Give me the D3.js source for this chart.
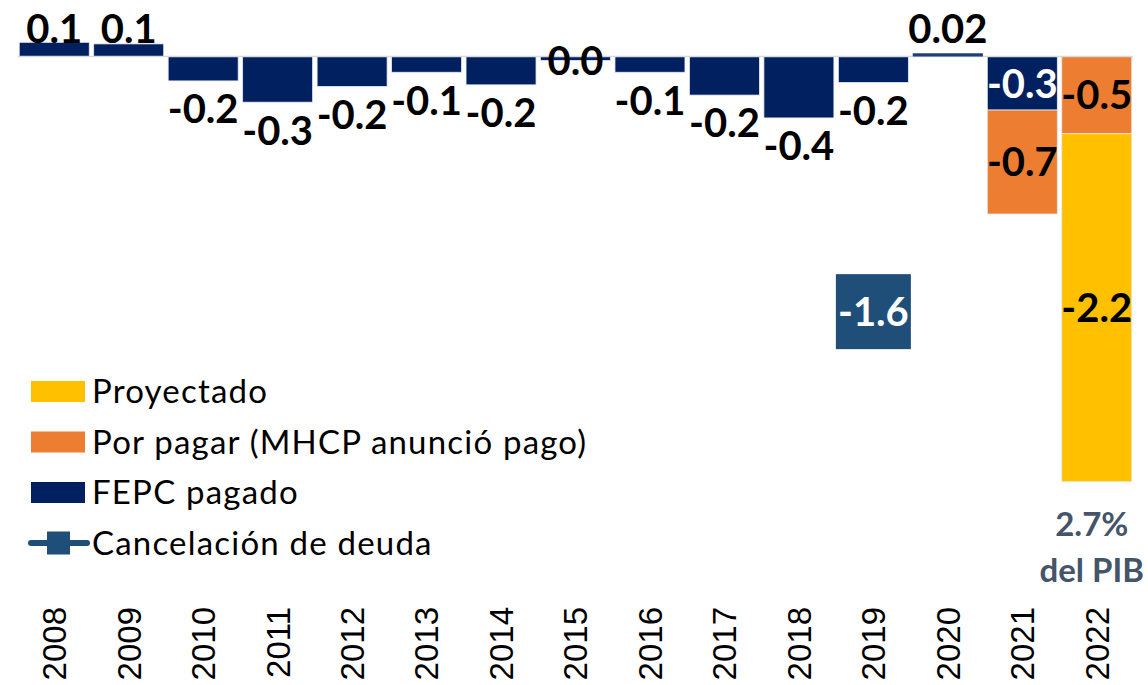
<!DOCTYPE html>
<html>
<head>
<meta charset="utf-8">
<script src="https://cdn.jsdelivr.net/npm/d3@7"></script>
<style>
  body { margin: 0; background: #fff; }
  svg { display: block; }
</style>
</head>
<body>
<script>
var width = 1148,
    height = 685;

// data (% del PIB)
var years = ["2008", "2009", "2010", "2011", "2012", "2013", "2014", "2015",
             "2016", "2017", "2018", "2019", "2020", "2021", "2022"];
var fepcPagado = [0.09, 0.08, -0.155, -0.29, -0.19, -0.10, -0.18, -0.025,
                  -0.10, -0.245, -0.39, -0.165, 0.02, -0.34, 0];
var fepcLabels = ["0.1", "0.1", "-0.2", "-0.3", "-0.2", "-0.1", "-0.2", "0.0",
                  "-0.1", "-0.2", "-0.4", "-0.2", "0.02", "-0.3", ""];
var porPagar = [0, 0, 0, 0, 0, 0, 0, 0, 0, 0, 0, 0, 0, -0.66, -0.49];
var porPagarLabels = ["", "", "", "", "", "", "", "", "", "", "", "", "", "-0.7", "-0.5"];
var proyectado = [0, 0, 0, 0, 0, 0, 0, 0, 0, 0, 0, 0, 0, 0, -2.21];
var proyectadoLabels = ["", "", "", "", "", "", "", "", "", "", "", "", "", "", "-2.2"];
var cancelacion = [null, null, null, null, null, null, null, null, null, null, null, -1.62, null, null, null];
var cancelacionLabels = ["", "", "", "", "", "", "", "", "", "", "", "-1.6", "", "", ""];
var totalNote = ["2.7%", "del PIB"];

var legendItems = [
    {name: "Proyectado", color: "#FFC000", kind: "bar"},
    {name: "Por pagar (MHCP anunció pago)", color: "#ED7D31", kind: "bar"},
    {name: "FEPC pagado", color: "#002060", kind: "bar"},
    {name: "Cancelación de deuda", color: "#1F4E79", kind: "line"}
];

var colors = {fepc: "#002060", porPagar: "#ED7D31", proyectado: "#FFC000", cancel: "#1F4E79"};

var table = years.map(function(y, i) {
    return {year: y, fepc: fepcPagado[i], porPagar: porPagar[i], proyectado: proyectado[i], i: i};
});

var labelsBy = {fepc: fepcLabels, porPagar: porPagarLabels, proyectado: proyectadoLabels};

var svg = d3.select("body").append("svg")
    .attr("width", width)
    .attr("height", height);

var x = d3.scaleBand()
    .domain(years)
    .range([17, 1134])
    .paddingInner(0.06)
    .paddingOuter(0.03);

var y = d3.scaleLinear()
    .domain([-3, 0.3])
    .range([56.5 + 3 * 157.5, 56.5 - 0.3 * 157.5]);

var keys = ["fepc", "porPagar", "proyectado"];
var series = d3.stack()
    .keys(keys)
    .offset(d3.stackOffsetDiverging)(table);

// bars
svg.append("g").selectAll("g")
    .data(series)
    .join("g")
    .attr("fill", function(s) { return colors[s.key]; })
    .selectAll("rect")
    .data(function(s) { return s.filter(function(d) { return d[1] - d[0] !== 0; }); })
    .join("rect")
    .attr("x", function(d) { return x(d.data.year); })
    .attr("y", function(d) { return y(Math.max(d[0], d[1])); })
    .attr("width", x.bandwidth())
    .attr("height", function(d) { return Math.abs(y(d[0]) - y(d[1])); })
    .attr("stroke", "#e6e9f0")
    .attr("stroke-width", 0.8);

// zero line
svg.append("line")
    .attr("x1", 18).attr("x2", 1133)
    .attr("y1", y(0)).attr("y2", y(0))
    .attr("stroke", "#d9d9d9")
    .attr("stroke-width", 1.5);

// 2020 thin bar sits over the zero line
svg.append("g").selectAll("rect")
    .data(table.filter(function(d) { return d.fepc > 0 && d.fepc < 0.05; }))
    .join("rect")
    .attr("x", function(d) { return x(d.year); })
    .attr("y", function(d) { return y(d.fepc); })
    .attr("width", x.bandwidth())
    .attr("height", function(d) { return y(0) - y(d.fepc); })
    .attr("fill", "#203f7a");

var labelFont = "Lato, 'Open Sans', sans-serif";
var labelSize = 40,
    mid = labelSize * 0.36;
var labels = svg.append("g")
    .attr("font-family", labelFont)
    .attr("font-weight", 700)
    .attr("font-size", labelSize)
    .attr("text-anchor", "middle");

series.forEach(function(s) {
    s.forEach(function(d) {
        var txt = labelsBy[s.key][d.data.i];
        if (!txt) return;
        var cx = x(d.data.year) + x.bandwidth() / 2;
        var stacked = d.data.porPagar !== 0 || d.data.proyectado !== 0;
        var yy, fill = "#000";
        if (s.key !== "fepc" || stacked) {
            yy = (y(d[0]) + y(d[1])) / 2 + mid;
            if (s.key === "fepc") fill = "#fff";
        } else if (d.data.fepc > 0) {
            yy = y(0) - 14;
        } else if (Math.abs(d.data.fepc) < 0.05) {
            yy = y(d.data.fepc) + mid;
        } else {
            yy = y(d.data.fepc) + 28 + mid;
        }
        labels.append("text")
            .attr("x", cx)
            .attr("y", yy)
            .attr("fill", fill)
            .text(txt);
    });
});

// cancelación de deuda: big square marker
var cancelPts = table.filter(function(d, i) { return cancelacion[i] !== null; });
var markerSize = x.bandwidth() + 5;
var cancelG = svg.append("g").selectAll("g")
    .data(cancelPts)
    .join("g")
    .attr("transform", function(d) {
        return "translate(" + (x(d.year) + x.bandwidth() / 2) + "," + y(cancelacion[d.i]) + ")";
    });
cancelG.append("rect")
    .attr("x", -markerSize / 2)
    .attr("y", -markerSize / 2)
    .attr("width", markerSize)
    .attr("height", markerSize)
    .attr("fill", colors.cancel);
cancelG.append("text")
    .attr("text-anchor", "middle")
    .attr("y", mid)
    .attr("font-family", labelFont)
    .attr("font-weight", 700)
    .attr("font-size", labelSize)
    .attr("fill", "#fff")
    .text(function(d) { return cancelacionLabels[d.i]; });

// total note under 2022
var last = years[years.length - 1];
svg.append("g")
    .attr("font-family", labelFont)
    .attr("font-weight", 700)
    .attr("font-size", 33)
    .attr("fill", "#44546A")
    .attr("text-anchor", "middle")
    .selectAll("text")
    .data(totalNote)
    .join("text")
    .attr("x", x(last) + x.bandwidth() / 2 - 5)
    .attr("y", function(d, i) { return 536 + i * 46; })
    .text(function(d) { return d; });

// x axis with rotated years
var xAxis = d3.axisBottom(x).tickSize(0);
var axisG = svg.append("g")
    .attr("transform", "translate(0,607)")
    .call(xAxis);
axisG.select(".domain").remove();
axisG.selectAll("text")
    .attr("font-family", "'Liberation Sans', Arial, sans-serif")
    .attr("font-size", 33)
    .attr("fill", "#000")
    .attr("x", 0)
    .attr("y", 0)
    .attr("dy", "0.36em")
    .attr("transform", "rotate(-90)")
    .attr("text-anchor", "end");

// legend
var legend = svg.append("g")
    .attr("font-family", labelFont)
    .attr("font-size", 33);
var item = legend.selectAll("g")
    .data(legendItems)
    .join("g")
    .attr("transform", function(d, i) { return "translate(31," + (391.5 + i * 50.5) + ")"; });
item.filter(function(d) { return d.kind === "bar"; })
    .append("rect")
    .attr("x", 0).attr("y", -10.5)
    .attr("width", 54).attr("height", 21)
    .attr("fill", function(d) { return d.color; });
var lineItem = item.filter(function(d) { return d.kind === "line"; });
lineItem.append("line")
    .attr("x1", 0).attr("x2", 56)
    .attr("y1", 0).attr("y2", 0)
    .attr("stroke", function(d) { return d.color; })
    .attr("stroke-width", 6)
    .attr("stroke-linecap", "round");
lineItem.append("rect")
    .attr("x", 16).attr("y", -11.5)
    .attr("width", 23).attr("height", 23)
    .attr("fill", function(d) { return d.color; });
item.append("text")
    .attr("x", 61)
    .attr("y", 11.5)
    .attr("fill", "#000")
    .style("letter-spacing", "1.2px")
    .text(function(d) { return d.name; });
</script>
</body>
</html>
